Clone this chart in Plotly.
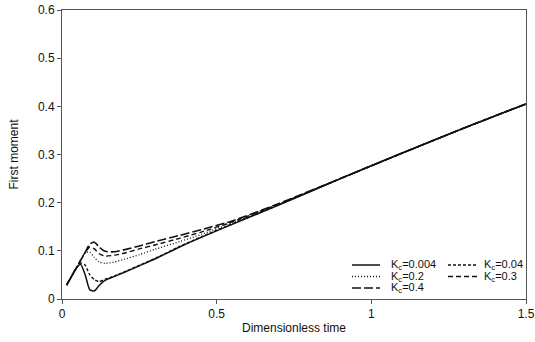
import plotly.graph_objects as go

# Dimensionless time samples shared by all curves
t = [0.015, 0.03, 0.045, 0.06, 0.075, 0.09, 0.105, 0.12, 0.14, 0.17, 0.2,
     0.25, 0.3, 0.38, 0.45, 0.55, 0.7, 0.9, 1.1, 1.3, 1.5]

# First moment for each Kc value
m_0004 = [0.029, 0.046, 0.063, 0.072, 0.050, 0.019, 0.017, 0.028, 0.039, 0.047, 0.055,
          0.069, 0.083, 0.108, 0.128, 0.155, 0.195, 0.250, 0.303, 0.355, 0.405]
m_004 = [0.029, 0.046, 0.063, 0.075, 0.070, 0.050, 0.040, 0.036, 0.041, 0.048, 0.056,
         0.070, 0.084, 0.109, 0.129, 0.156, 0.195, 0.250, 0.303, 0.355, 0.405]
m_02 = [0.029, 0.046, 0.063, 0.080, 0.096, 0.097, 0.086, 0.077, 0.074, 0.077, 0.082,
        0.092, 0.103, 0.119, 0.134, 0.158, 0.196, 0.250, 0.303, 0.355, 0.405]
m_03 = [0.029, 0.046, 0.063, 0.080, 0.097, 0.108, 0.104, 0.094, 0.089, 0.091, 0.095,
        0.104, 0.112, 0.126, 0.139, 0.160, 0.197, 0.250, 0.303, 0.355, 0.405]
m_04 = [0.029, 0.046, 0.063, 0.080, 0.097, 0.114, 0.118, 0.108, 0.099, 0.098, 0.102,
        0.110, 0.119, 0.132, 0.144, 0.162, 0.198, 0.250, 0.303, 0.355, 0.405]

kc_labels = ["0.004", "0.04", "0.2", "0.3", "0.4"]
x_ticks = [0, 0.5, 1, 1.5]
x_tick_text = ["0", "0.5", "1", "1.5"]
y_ticks = [0, 0.1, 0.2, 0.3, 0.4, 0.5, 0.6]
y_tick_text = ["0", "0.1", "0.2", "0.3", "0.4", "0.5", "0.6"]

series = [m_0004, m_004, m_02, m_03, m_04]
dashes = ["solid", "3px,2px", "1px,2px", "5px,3px", "9px,3px"]
widths = [1.5, 1.4, 1.3, 1.4, 1.6]

W, H = 535, 342
ML, MR, MT, MB = 62, 9, 10, 43
PW, PH = W - ML - MR, H - MT - MB
FONT = "Liberation Sans, Arial, Helvetica"
INK = "#111111"


def px_to_paper(px, py):
    return (px - ML) / PW, (H - MB - py) / PH


fig = go.Figure()
for vals, lab, dash, w in zip(series, kc_labels, dashes, widths):
    fig.add_trace(go.Scatter(
        x=t, y=vals, mode="lines", name="K<sub>c</sub>=" + lab,
        line=dict(color=INK, width=w, dash=dash, shape="spline", smoothing=0.6),
        showlegend=False,
    ))

# Two-column legend in the lower right corner
slots = [(0, 0), (1, 0), (0, 1), (1, 1), (0, 2)]  # (column, row) per series
col_line = [(352, 380), (448, 477)]
col_text = [389, 482]
row_y = [265, 276.5, 288]
shapes, annotations = [], []
for (c, r), lab, dash, w in zip(slots, kc_labels, dashes, widths):
    x0, yy = px_to_paper(col_line[c][0], row_y[r])
    x1, _ = px_to_paper(col_line[c][1], row_y[r])
    shapes.append(dict(type="line", xref="paper", yref="paper", x0=x0, x1=x1, y0=yy, y1=yy,
                       line=dict(color=INK, width=w, dash=dash)))
    tx, _ = px_to_paper(col_text[c], row_y[r])
    annotations.append(dict(xref="paper", yref="paper", x=tx, y=yy, xanchor="left", yanchor="middle",
                            text="K<sub>c</sub>=" + lab, showarrow=False,
                            font=dict(family=FONT, size=11, color=INK)))

axis_common = dict(showgrid=False, zeroline=False, showline=True, linecolor="#555555", linewidth=1,
                   mirror=True, ticks="outside", ticklen=4, tickcolor="#555555", automargin=False,
                   tickfont=dict(family=FONT, size=12, color=INK))

fig.update_layout(
    width=W, height=H, margin=dict(l=ML, r=MR, t=MT, b=MB, autoexpand=False),
    paper_bgcolor="white", plot_bgcolor="white",
    xaxis=dict(range=[0, 1.5], tickvals=x_ticks, ticktext=x_tick_text,
               title=dict(text="Dimensionless time", standoff=3,
                          font=dict(family=FONT, size=12, color=INK)),
               **axis_common),
    yaxis=dict(range=[0, 0.6], tickvals=y_ticks, ticktext=y_tick_text,
               title=dict(text="First moment", standoff=16,
                          font=dict(family=FONT, size=12, color=INK)),
               **axis_common),
    shapes=shapes, annotations=annotations,
)

fig.write_html("out.html")
